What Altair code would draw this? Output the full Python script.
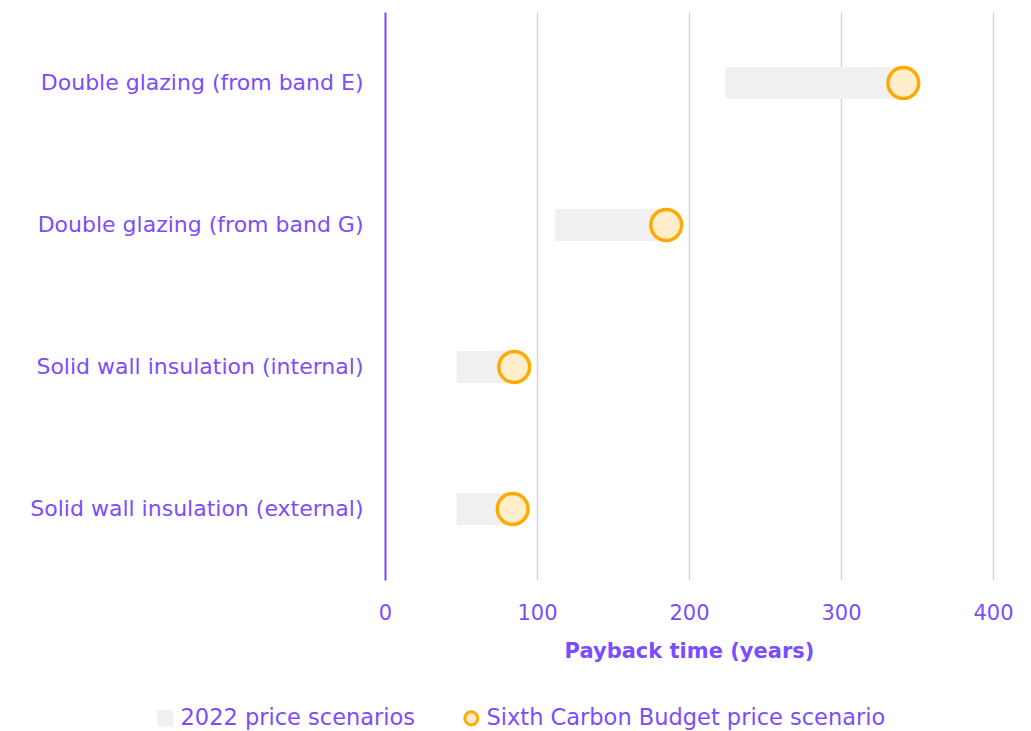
import altair as alt
import pandas as pd

categories = [
    "Double glazing (from band E)",
    "Double glazing (from band G)",
    "Solid wall insulation (internal)",
    "Solid wall insulation (external)",
]
range_low = [224, 112, 47, 47]
range_high = [339, 182, 83, 82]
scb_value = [341, 185, 85, 84]

series_names = ["2022 price scenarios", "Sixth Carbon Budget price scenario"]

bars_df = pd.DataFrame({
    "measure": categories,
    "low": range_low,
    "high": range_high,
    "series": series_names[0],
})
pts_df = pd.DataFrame({
    "measure": categories,
    "value": scb_value,
    "series": series_names[1],
})

PURPLE = "#7B4DFF"
FONT = "DejaVu Sans"

y_enc = alt.Y(
    "measure:N",
    sort=categories,
    scale=alt.Scale(domain=categories),
    axis=alt.Axis(
        title=None,
        ticks=False,
        domainColor=PURPLE,
        domainWidth=2,
        labelColor=PURPLE,
        labelFont=FONT,
        labelFontSize=22,
        labelPadding=22,
        labelLimit=400,
    ),
)

x_scale = alt.Scale(domain=[0, 400], nice=False)
x_axis = alt.Axis(
    title="Payback time (years)",
    values=[0, 100, 200, 300, 400],
    domain=False,
    ticks=False,
    grid=True,
    gridColor="#d6d6d6",
    gridWidth=1.5,
    labelColor=PURPLE,
    labelFont=FONT,
    labelFontSize=21,
    labelPadding=22,
    labelFlush=False,
    titleColor=PURPLE,
    titleFont=FONT,
    titleFontSize=21,
    titleFontWeight="bold",
    titlePadding=17,
)

fill_scale = alt.Scale(domain=series_names, range=["#f0f0f0", "#ffedcc"])
stroke_scale = alt.Scale(domain=series_names, range=["#f0f0f0", "#ffaa00"])
shape_scale = alt.Scale(domain=series_names, range=["square", "circle"])

legend = alt.Legend(
    title=None,
    orient="none",
    direction="horizontal",
    legendX=-231,
    legendY=695,
    labelColor=PURPLE,
    labelFont=FONT,
    labelFontSize=22.5,
    labelOffset=4,
    symbolSize=170,
    symbolStrokeWidth=3,
    columnPadding=42,
    labelLimit=500,
)

bars = alt.Chart(bars_df).mark_bar(size=32).encode(
    y=y_enc,
    x=alt.X("low:Q", scale=x_scale, axis=x_axis),
    x2="high:Q",
    fill=alt.Fill("series:N", scale=fill_scale, legend=legend),
)

points = alt.Chart(pts_df).mark_point(size=950, filled=False, strokeWidth=3.5, opacity=1).encode(
    y=y_enc,
    x=alt.X("value:Q", scale=x_scale),
    fill=alt.Fill("series:N", scale=fill_scale, legend=legend),
    stroke=alt.Stroke("series:N", scale=stroke_scale, legend=legend),
    shape=alt.Shape("series:N", scale=shape_scale, legend=legend),
)

chart = alt.layer(bars, points).properties(
    width=608,
    height=568,
    autosize=alt.AutoSizeParams(type="none"),
    padding={"left": 377, "top": 4, "right": 30, "bottom": 160},
).configure_view(stroke=None).configure_point(fillOpacity=1)

chart.save("out.html", embed_options={"renderer": "svg", "actions": False})
